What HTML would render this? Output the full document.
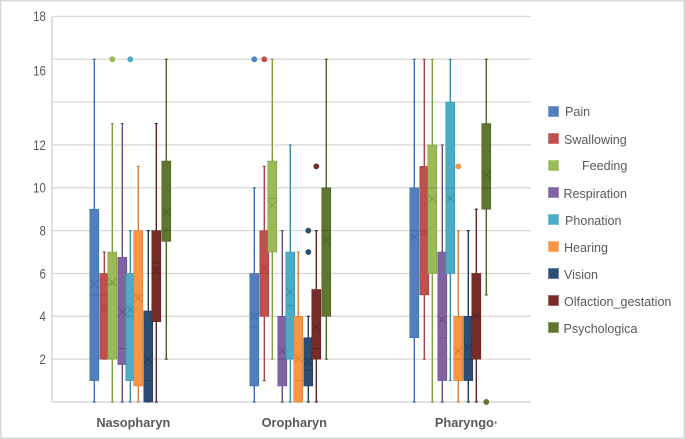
<!DOCTYPE html>
<html>
<head>
<meta charset="utf-8">
<title>Box plot chart</title>
<style>
html,body{margin:0;padding:0;background:#fff;}
svg{display:block;font-family:"Liberation Sans",sans-serif;filter:blur(0.3px);}
</style>
</head>
<body>
<svg id="chart" width="685" height="439" viewBox="0 0 685 439" xmlns="http://www.w3.org/2000/svg">
  <rect x="0.75" y="0.75" width="683.5" height="437.5" fill="#fff" stroke="#d9d9d9" stroke-width="1.5"/>
  <g id="plot"></g>
  <g font-size="12.55" fill="#595959">
    <g><rect x="548.5" y="106.5" width="10" height="10" fill="#4F81BD" stroke="#7f9fc8"/><text x="565" y="116">Pain</text></g>
    <g><rect x="548.5" y="133.5" width="10" height="10" fill="#C0504D" stroke="#cf7f7d"/><text x="564" y="144">Swallowing</text></g>
    <g><rect x="548.5" y="160.5" width="10" height="10" fill="#9BBB59" stroke="#b4cc85"/><text x="582" y="170">Feeding</text></g>
    <g><rect x="548.5" y="187.5" width="10" height="10" fill="#8064A2" stroke="#a08cba"/><text x="563.5" y="198">Respiration</text></g>
    <g><rect x="548.5" y="214.5" width="10" height="10" fill="#4BACC6" stroke="#7fc4d6"/><text x="565" y="225">Phonation</text></g>
    <g><rect x="548.5" y="241.5" width="10" height="10" fill="#F79646" stroke="#f9b47c"/><text x="564" y="252">Hearing</text></g>
    <g><rect x="548.5" y="268.5" width="10" height="10" fill="#2C4D75" stroke="#6b84a1"/><text x="564" y="279">Vision</text></g>
    <g><rect x="548.5" y="295.5" width="10" height="10" fill="#772C2A" stroke="#9d6a68"/><text x="564" y="306">Olfaction_gestation</text></g>
    <g><rect x="548.5" y="322.5" width="10" height="10" fill="#5F7530" stroke="#8c9c6c"/><text x="563.5" y="333">Psychologica</text></g>
  </g>
</svg>
<script>
const categories = ['Nasopharyn', 'Oropharyn', 'Pharyngo\u00B7'];
const seriesNames = ['pain', 'swallowing', 'feeding', 'respiration', 'phonation', 'hearing', 'vision', 'olfaction-gestation', 'psychologica'];
const tickValues = [18, 16, 14, 12, 10, 8, 6, 4, 2];
const tickLabels = ['18', '16', '', '12', '10', '8', '6', '4', '2'];
const whiskerLow = [[0,0,0],[2,1,2],[0,2,0],[0,0,0],[0,0,1],[0,0,0],[0,0,0],[0,0,0],[2,2,5]];
const boxLow = [[1,0.75,3],[2,4,5],[2,7,6],[1.75,0.75,1],[1,2,6],[0.75,0,1],[0,0.75,1],[3.75,2,2],[7.5,4,9]];
const medians = [[5,3.5,8],[5,6,8],[5.5,9.5,10],[2.5,2,3],[4,4.5,10],[5,1,2],[1,1.5,2],[6.5,2.5,4],[8,8,10]];
const boxHigh = [[9,6,10],[6,8,11],[7,11.25,12],[6.75,4,7],[6,7,14],[8,4,4],[4.25,3,4],[8,5.25,6],[11.25,10,13]];
const whiskerHigh = [[16,10,16],[7,11,16],[13,16,16],[13,8,12],[8,12,16],[11,7,8],[8,4,8],[13,8,9],[16,16,16]];
const means = [[5.5,4,7.7],[4.35,6.25,7.9],[5.6,9.2,9.5],[4.2,2.4,3.85],[4.3,5.15,9.5],[4.85,2.05,2.4],[2,1.9,2.55],[6.15,3.5,4],[8.85,7.55,10.6]];
const outliers = [[[],[16],[]],[[],[16],[]],[[16],[],[]],[[],[],[]],[[16],[],[]],[[],[],[11]],[[],[7,8],[]],[[],[11],[]],[[],[],[0]]];
const fillColors = ['#4F81BD','#C0504D','#9BBB59','#8064A2','#4BACC6','#F79646','#2C4D75','#772C2A','#5F7530'];
const lineColors = ['#3F6EA8','#A84441','#7F9C47','#66508A','#3A90A8','#D97F35','#1F3B5E','#5F2120','#4C5F26'];

const NS = 'http://www.w3.org/2000/svg';
const plot = document.getElementById('plot');
const y = v => 402 - v * 21.42;
const groupX = c => 130.3 + c * 160;
const seriesOffset = s => {
  const k = s - 4;
  return 9 * k - (k % 2 ? Math.sign(k) : 0);
};
const categoryLabelX = c => groupX(c) + (c === 2 ? 16.2 : 3 + c);
function add(parent, tag, attrs, txt) {
  const el = document.createElementNS(NS, tag);
  for (const key in attrs) el.setAttribute(key, attrs[key]);
  if (txt !== undefined) el.textContent = txt;
  parent.appendChild(el);
  return el;
}

tickValues.forEach((v, i) => {
  const line = add(plot, 'line', {x1: 52, x2: 531, y1: y(v), y2: y(v), stroke: '#d9d9d9', 'stroke-width': 1.3});
  
  
  if (tickLabels[i]) {
    const nudge = tickLabels[i] === '16' ? 11.5 : 0;
    const label = add(plot, 'text', {x: 45.8, y: y(v) + nudge + 4.8, 'text-anchor': 'end', 'font-size': 13.5, fill: '#595959', textLength: 6.35 * tickLabels[i].length, lengthAdjust: 'spacingAndGlyphs'}, tickLabels[i]);
    
    
  }
});
const yAxis = add(plot, 'line', {x1: 52, x2: 52, y1: y(18), y2: y(0), stroke: '#d9d9d9', 'stroke-width': 1.6});


const xAxis = add(plot, 'line', {x1: 52, x2: 531, y1: y(0), y2: y(0), stroke: '#d9d9d9', 'stroke-width': 1.6});



categories.forEach((name, c) => {
  const label = add(plot, 'text', {x: categoryLabelX(c), y: 427, 'text-anchor': 'middle', 'font-size': 12.8, 'font-weight': 'bold', fill: '#595959'}, name);
  
  
});

seriesNames.forEach((name, s) => {
  categories.forEach((cat, c) => {
    const cx = groupX(c) + seriesOffset(s);
    const g = add(plot, 'g', {});
    
    
    const stroke = lineColors[s];
    add(g, 'line', {x1: cx, x2: cx, y1: y(whiskerLow[s][c]), y2: y(whiskerHigh[s][c]), stroke: stroke, 'stroke-width': 1.4});
    add(g, 'line', {x1: cx - 1.5, x2: cx + 1.5, y1: y(whiskerHigh[s][c]), y2: y(whiskerHigh[s][c]), stroke: stroke, 'stroke-width': 1.2});
    add(g, 'line', {x1: cx - 1.5, x2: cx + 1.5, y1: y(whiskerLow[s][c]), y2: y(whiskerLow[s][c]), stroke: stroke, 'stroke-width': 1.2});
    add(g, 'rect', {x: cx - 4.5, y: y(boxHigh[s][c]), width: 9, height: y(boxLow[s][c]) - y(boxHigh[s][c]), fill: fillColors[s], stroke: stroke, 'stroke-width': 0.6});
    add(g, 'line', {x1: cx - 4.5, x2: cx + 4.5, y1: y(medians[s][c]), y2: y(medians[s][c]), stroke: stroke, 'stroke-width': 1});
    const my = y(means[s][c]);
    add(g, 'path', {d: 'M' + (cx - 4) + ' ' + (my - 4) + 'L' + (cx + 4) + ' ' + (my + 4) + 'M' + (cx + 4) + ' ' + (my - 4) + 'L' + (cx - 4) + ' ' + (my + 4), stroke: stroke, 'stroke-width': 1, fill: 'none'});
    outliers[s][c].forEach(v => {
      const dot = add(plot, 'circle', {cx: cx, cy: y(v), r: 2.7, fill: fillColors[s], stroke: stroke, 'stroke-width': 0.4});
      
      
    });
  });
});
</script>
</body>
</html>
